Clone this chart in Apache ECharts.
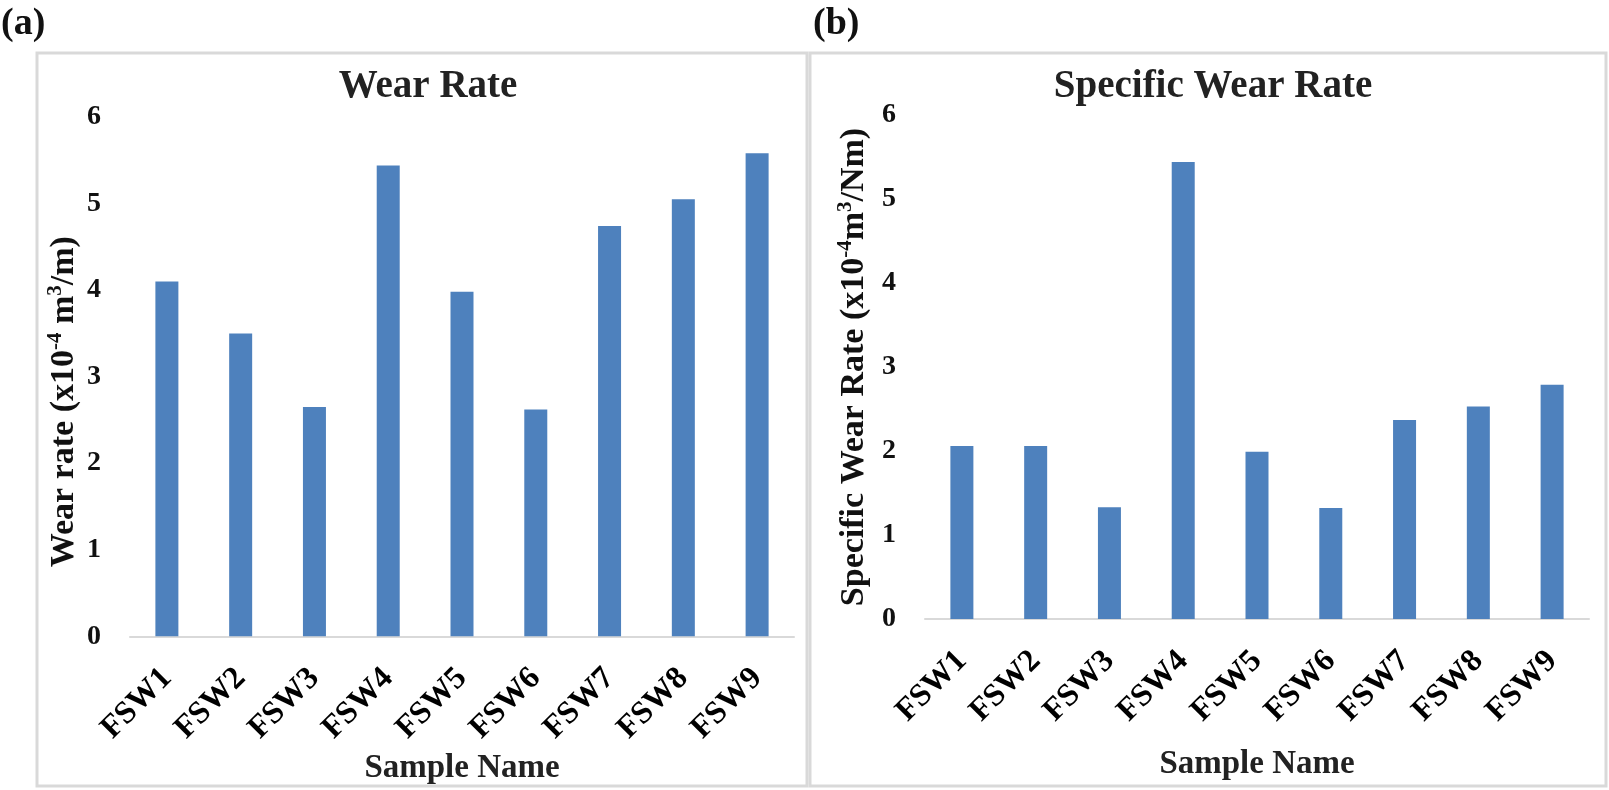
<!DOCTYPE html>
<html>
<head>
<meta charset="utf-8">
<script src="https://cdn.jsdelivr.net/npm/echarts@6/dist/echarts.min.js"></script>
<style>
html,body{margin:0;padding:0;background:#fff;}
#chart{width:1609px;height:790px;}
</style>
</head>
<body>
<div id="chart"></div>
<script>
const categories = ['FSW1','FSW2','FSW3','FSW4','FSW5','FSW6','FSW7','FSW8','FSW9'];
const wearRate = [4.10, 3.50, 2.65, 5.44, 3.98, 2.62, 4.74, 5.05, 5.58];
const specificWearRate = [2.06, 2.06, 1.33, 5.44, 1.99, 1.32, 2.37, 2.53, 2.79];
const yTicks = [0, 1, 2, 3, 4, 5, 6];

const FONT = '"Liberation Serif", "Times New Roman", serif';
const BAR = '#4E81BD';
const GRAY = '#d9d9d9';

const chart = echarts.init(document.getElementById('chart'), null, {renderer:'canvas'});

function xAxisCfg(idx, gap){
  return {
    type:'category', gridIndex: idx, data: categories,
    axisLine:{show:true, lineStyle:{color:GRAY, width:2}},
    axisTick:{show:false},
    axisLabel:{rotate:45, margin:37, fontFamily:FONT, fontWeight:'bold', fontSize:32, color:'#000', interval:0},
    name:'Sample Name', nameLocation:'middle', nameGap: gap,
    nameTextStyle:{fontFamily:FONT, fontWeight:'bold', fontSize:33, color:'#222'}
  };
}
function yAxisCfg(idx, nameRich, gap, pad){
  return {
    type:'value', gridIndex: idx, min: yTicks[0], max: yTicks[yTicks.length-1], interval: 1,
    axisLine:{show:false}, axisTick:{show:false}, splitLine:{show:false},
    axisLabel:{margin:29, fontFamily:FONT, fontWeight:'bold', fontSize:28, color:'#111'},
    name: nameRich, nameLocation:'middle', nameGap: gap, nameRotate: 90,
    nameTextStyle:{fontFamily:FONT, fontWeight:'bold', fontSize:34, color:'#111', lineHeight:38, padding: pad,
      rich:{
        n:{fontFamily:FONT, fontWeight:'bold', fontSize:34, color:'#111', lineHeight:38},
        s:{fontFamily:FONT, fontWeight:'bold', fontSize:21, color:'#111', verticalAlign:'top', lineHeight:38, padding:[0,0,14,0]}
      }}
  };
}

const option = {
  backgroundColor:'#fff',
  animation:false,
  title:[
    {text:'Wear Rate', left:423, top:62, textAlign:'center',
     textStyle:{fontFamily:FONT, fontWeight:'bold', fontSize:39, color:'#222'}},
    {text:'Specific Wear Rate', left:1208, top:62, textAlign:'center',
     textStyle:{fontFamily:FONT, fontWeight:'bold', fontSize:39, color:'#222'}}
  ],
  graphic:[
    {type:'rect', shape:{x:37, y:53, width:770, height:733}, style:{fill:null, stroke:GRAY, lineWidth:3}, silent:true, z:-1},
    {type:'rect', shape:{x:810, y:53, width:796, height:733}, style:{fill:null, stroke:GRAY, lineWidth:3}, silent:true, z:-1},
    {type:'text', left:1, top:5, style:{text:'(a)', fontFamily:FONT, fontWeight:'bold', fontSize:38, fill:'#111'}},
    {type:'text', left:813, top:5, style:{text:'(b)', fontFamily:FONT, fontWeight:'bold', fontSize:38, fill:'#111'}}
  ],
  grid:[
    {left:130, right:815, top:117, bottom:153},
    {left:925, right:20, top:115, bottom:171}
  ],
  xAxis:[xAxisCfg(0, 111), xAxisCfg(1, 129)],
  yAxis:[
    yAxisCfg(0, '{n|Wear rate (x10}{s|-4}{n| m}{s|3}{n|/m)}', 44, [0, 50, 0, 0]),
    yAxisCfg(1, '{n|Specific Wear Rate (x10}{s|-4}{n|m}{s|3}{n|/Nm)}', 52, [0, 0, 0, 0])
  ],
  series:[
    {type:'bar', xAxisIndex:0, yAxisIndex:0, data:wearRate, barWidth:23, itemStyle:{color:BAR}},
    {type:'bar', xAxisIndex:1, yAxisIndex:1, data:specificWearRate, barWidth:23, itemStyle:{color:BAR}}
  ]
};
chart.setOption(option);
</script>
</body>
</html>
